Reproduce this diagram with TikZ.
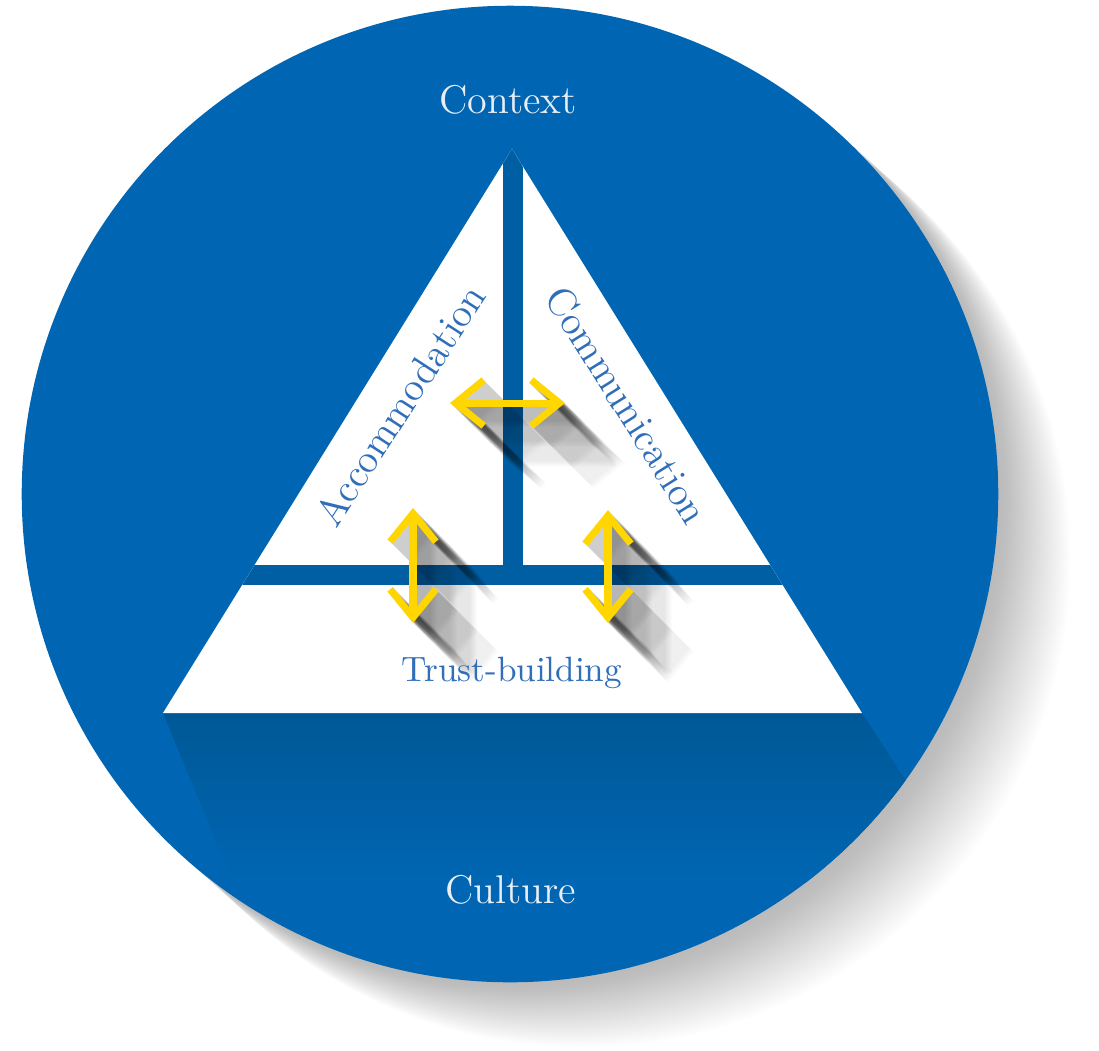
\documentclass[tikz,border=0pt]{standalone}
\usepackage{tikz}
\usetikzlibrary{arrows.meta,calc}

\definecolor{ringblue}{RGB}{0,102,179}
\definecolor{barblue}{RGB}{0,94,162}
\definecolor{dropblue}{RGB}{0,88,150}
\definecolor{inkblue}{RGB}{48,110,186}
\definecolor{tipyellow}{RGB}{255,214,0}
\definecolor{paleink}{RGB}{232,238,246}

\begin{document}
\begin{tikzpicture}[x=0.01cm,y=-0.01cm,
                    twoway/.style={line width=2pt,
                      {Straight Barb[length=8pt,width=13pt]}-{Straight Barb[length=8pt,width=13pt]}}]
  \tikzstyle{ringtext}=[text=paleink,font=\fontsize{11.4}{13}\selectfont]
  \tikzstyle{sidetext}=[text=inkblue,font=\fontsize{11.4}{13}\selectfont]
  \tikzstyle{fallA}=[twoway,black,opacity=0.04]
  \tikzstyle{fallB}=[twoway,black,opacity=0.022]
  \tikzstyle{fallC}=[twoway,black,opacity=0.01]
  \useasboundingbox (0,0) rectangle (1099,1050);

  \coordinate (O)    at (510,494);
  \coordinate (apex) at (512,149);
  \coordinate (bl)   at (163,713);
  \coordinate (br)   at (862,713);

  \coordinate (hl) at (450,403);
  \coordinate (hr) at (565,403);
  \coordinate (lt) at (413,508);
  \coordinate (lb) at (413,623);
  \coordinate (rt) at (608,510);
  \coordinate (rb) at (608,623);

  \foreach \k in {1,...,36}
    \fill[black,opacity=0.007] ($(O)+(2*\k,1.8*\k)$) circle (4.88cm);
  \fill[ringblue] (O) circle (4.88cm);

  \begin{scope}
    \clip (O) circle (4.88cm);
    \shade[top color=dropblue,bottom color=ringblue]
      (bl) -- (br) -- ($(br)+(110,170)$) -- ($(bl)+(70,170)$) -- cycle;
  \end{scope}

  \fill[white] (apex) -- (br) -- (bl) -- cycle;
  \begin{scope}
    \clip (apex) -- (br) -- (bl) -- cycle;
    \fill[barblue] (503,100) rectangle (523,585);
    \fill[barblue] (100,565) rectangle (900,585);
  \end{scope}

  \foreach \a/\b in {hl/hr,lt/lb,rt/rb}{
    \foreach \k in {1,...,20}
      \draw[fallA] ($(\a)+(\k,\k)$) -- ($(\b)+(\k,\k)$);
    \foreach \k in {21,...,40}
      \draw[fallB] ($(\a)+(\k,\k)$) -- ($(\b)+(\k,\k)$);
    \foreach \k in {41,...,60}
      \draw[fallC] ($(\a)+(\k,\k)$) -- ($(\b)+(\k,\k)$);
  }

  \draw[twoway,tipyellow] (hl) -- (hr);
  \draw[twoway,tipyellow] (lt) -- (lb);
  \draw[twoway,tipyellow] (rt) -- (rb);

  \node[ringtext] (context) at (508,100) {Context};
  \node[ringtext] (culture) at (511,890) {Culture};
  \node[sidetext,rotate=57]  (accom) at (400,405) {Accommodation};
  \node[sidetext,rotate=-58] (comm)  at (627,405) {Communication};
  \node[sidetext,font=\fontsize{10}{12}\selectfont] (trust) at (512,673) {Trust-building};
\end{tikzpicture}
\end{document}
